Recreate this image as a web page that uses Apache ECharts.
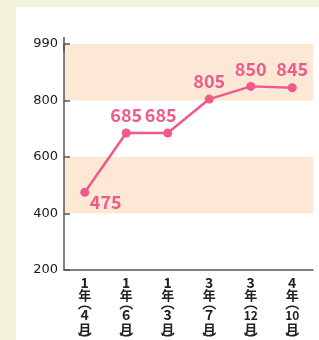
<!DOCTYPE html>
<html><head><meta charset="utf-8">
<script src="https://cdn.jsdelivr.net/npm/echarts@6/dist/echarts.min.js"></script>
<style>html,body{margin:0;padding:0;background:#f5f2da;}#c{width:319px;height:340px;}</style>
</head><body><div id="c"></div>
<script>
const categories = [['1','4'],['1','6'],['1','3'],['3','7'],['3','12'],['4','10']];
const values = [475, 685, 685, 805, 850, 845];
const yTicks = [200, 400, 600, 800, 1000];
const yTickLabels = ['200', '400', '600', '800', '990'];
const labelOffsets = [[21, 27], [0, 0], [-7, 0], [0, 0], [0, 0], [0, -1]];

const pink = '#ef5a8b';
const chart = echarts.init(document.getElementById('c'), null, {renderer: 'canvas'});
const f = 'Noto Sans CJK JP';
const base = {fontWeight: 'bold', color: '#222', fontFamily: f};
chart.setOption({
  backgroundColor: '#f5f2da',
  animation: false,
  graphic: [{type: 'rect', z: -10, shape: {x: 16, y: 7, width: 303, height: 333}, style: {fill: '#ffffff'}}],
  grid: {left: 64, right: 6, top: 44, bottom: 70, containLabel: false, outerBoundsMode: 'none'},
  xAxis: {
    type: 'category',
    data: categories.map(c => c.join('|')),
    boundaryGap: true,
    axisLine: {lineStyle: {color: '#555', width: 1.5}},
    axisTick: {inside: true, length: 5, alignWithLabel: true, lineStyle: {color: '#555', width: 1.5}},
    axisLabel: {
      margin: 6,
      interval: 0,
      formatter: function (v) {
        const p = v.split('|');
        const d = p[1].length > 1 ? 'm' : 'n2';
        return ['{n|' + p[0] + '}', '{k|年}', '{o|︵}', '{' + d + '|' + p[1] + '}', '{k2|月}', '{c|︶}'].join('\n');
      },
      rich: {
        n: Object.assign({fontSize: 14, lineHeight: 13}, base),
        k: Object.assign({fontSize: 13, lineHeight: 12}, base),
        o: Object.assign({fontSize: 14, lineHeight: 4}, base),
        n2: Object.assign({fontSize: 14, lineHeight: 20}, base),
        m: Object.assign({fontSize: 12, lineHeight: 20}, base),
        k2: Object.assign({fontSize: 13, lineHeight: 8}, base),
        c: Object.assign({fontSize: 14, lineHeight: 11}, base)
      }
    }
  },
  yAxis: {
    type: 'value',
    min: yTicks[0], max: yTicks[yTicks.length - 1], interval: 200,
    axisLine: {show: true, lineStyle: {color: '#555', width: 1.5}, symbol: ['none', 'rect'], symbolSize: [1.5, 14]},
    axisTick: {show: true, inside: true, length: 6, lineStyle: {color: '#555', width: 1.5}},
    splitLine: {show: false},
    splitArea: {show: true, areaStyle: {color: ['rgba(255,255,255,0)', '#fde8d6']}},
    axisLabel: {
      margin: 6, color: '#1a1a1a', fontSize: 13, fontFamily: 'DejaVu Sans',
      formatter: v => yTickLabels[yTicks.indexOf(v)]
    }
  },
  series: [{
    type: 'line',
    data: values.map((v, i) => ({value: v, label: {offset: labelOffsets[i]}})),
    lineStyle: {color: pink, width: 2.5},
    itemStyle: {color: pink},
    symbol: 'circle', symbolSize: 9,
    label: {show: true, position: 'top', distance: 4, color: pink, fontSize: 18, fontWeight: 'bold', fontFamily: f}
  }]
});
</script></body></html>
